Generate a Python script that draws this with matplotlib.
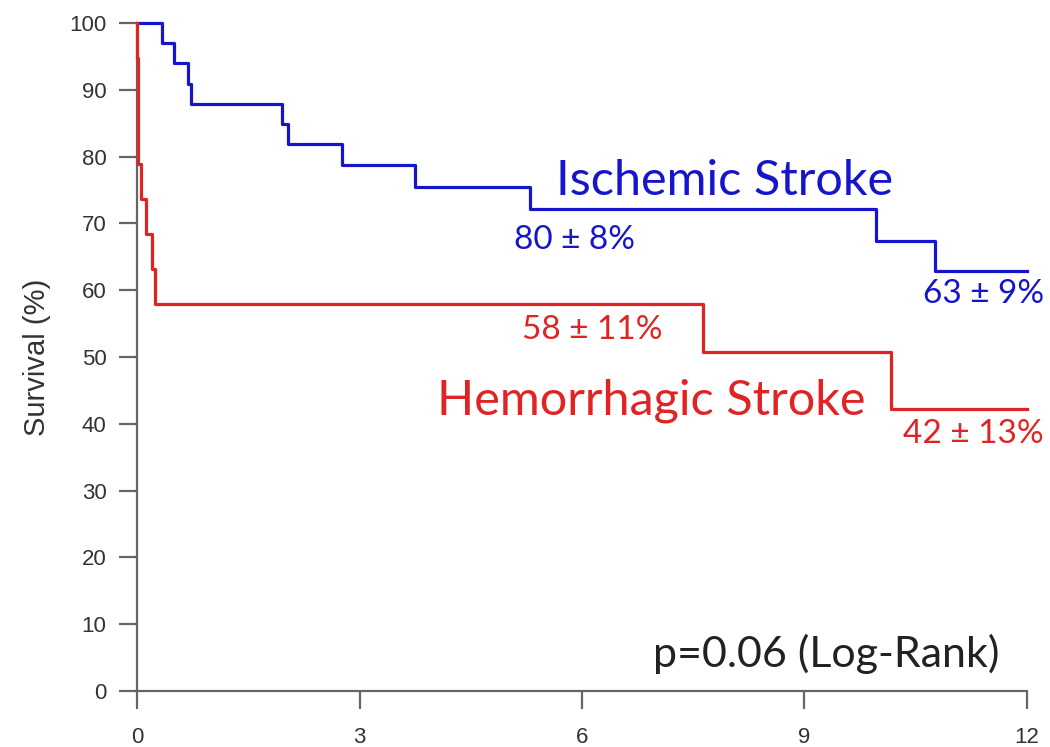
import matplotlib
matplotlib.use("Agg")
import matplotlib.pyplot as plt

# Kaplan-Meier step data (years, survival %)
isch_time = [0.0, 0.34, 0.50, 0.69, 0.73, 1.95, 2.04, 2.76, 3.75, 5.30, 9.96, 10.76, 12.0]
isch_surv = [100.0, 96.97, 93.94, 90.91, 87.88, 84.85, 81.82, 78.79, 75.5, 72.2, 67.4, 62.9, 62.9]

hem_time = [0.0, 0.005, 0.01, 0.015, 0.02, 0.06, 0.12, 0.20, 0.24, 7.63, 10.17, 12.0]
hem_surv = [100.0, 94.7, 89.5, 84.2, 78.9, 73.7, 68.4, 63.2, 57.9, 50.7, 42.2, 42.2]

x_ticks = [0, 3, 6, 9, 12]
y_ticks = [0, 10, 20, 30, 40, 50, 60, 70, 80, 90, 100]

blue = "#1515cc"
red = "#e02424"
axis_gray = "#666666"

fig = plt.figure(figsize=(10.5, 7.47), dpi=100)
ax = fig.add_axes([137 / 1050, 1 - 691 / 747, 890 / 1050, 668 / 747])

ax.step(isch_time, isch_surv, where="post", color=blue, lw=2.3, clip_on=False, zorder=3)
ax.step(hem_time, hem_surv, where="post", color=red, lw=2.3, clip_on=False, zorder=4)

ax.set_xlim(0, 12)
ax.set_ylim(0, 100)
ax.set_xticks(x_ticks)
ax.set_yticks(y_ticks)

for side in ("top", "right"):
    ax.spines[side].set_visible(False)
for side in ("left", "bottom"):
    ax.spines[side].set_color(axis_gray)
    ax.spines[side].set_linewidth(1.6)

ax.tick_params(axis="both", colors=axis_gray, width=1.6, length=13,
               labelcolor="#333333", labelsize=16)
ax.tick_params(axis="y", pad=9)
ax.tick_params(axis="x", pad=13)
for lab in ax.get_xticklabels() + ax.get_yticklabels():
    lab.set_fontfamily("Liberation Sans")

ax.set_ylabel("Survival (%)", fontsize=21, color="#333333",
              fontfamily="Liberation Sans", labelpad=13)

lab_font = "Lato"
big = 35
small = 24
ax.text(5.65, 76.3, "Ischemic Stroke", color=blue, fontsize=big,
        fontfamily=lab_font, ha="left", va="center")
ax.text(5.90, 67.5, "80 \u00b1 8%", color=blue, fontsize=small,
        fontfamily=lab_font, ha="center", va="center")
ax.text(11.42, 59.4, "63 \u00b1 9%", color=blue, fontsize=small,
        fontfamily=lab_font, ha="center", va="center")
ax.text(6.14, 54.0, "58 \u00b1 11%", color=red, fontsize=small,
        fontfamily=lab_font, ha="center", va="center")
ax.text(4.05, 43.4, "Hemorrhagic Stroke", color=red, fontsize=big,
        fontfamily=lab_font, ha="left", va="center")
ax.text(11.28, 38.4, "42 \u00b1 13%", color=red, fontsize=small,
        fontfamily=lab_font, ha="center", va="center")
ax.text(11.63, 5.5, "p=0.06 (Log-Rank)", color="#222222", fontsize=31,
        fontfamily=lab_font, ha="right", va="center")

fig.savefig("out.png", dpi=100)
